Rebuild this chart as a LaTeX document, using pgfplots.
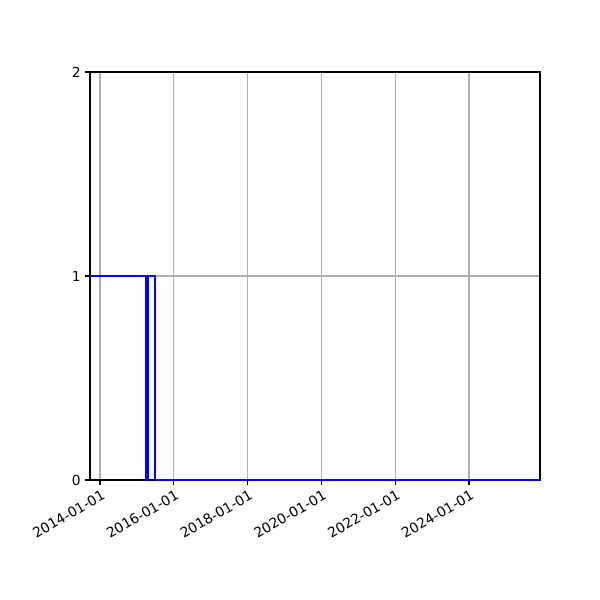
\documentclass[border=0pt]{standalone}
\usepackage{fontspec}
\setmainfont{DejaVu Sans}
\usepackage{pgfplots}
\pgfplotsset{compat=1.18}
\definecolor{gridgray}{HTML}{B0B0B0}

\begin{document}
\fontsize{10}{12}\selectfont
\begin{tikzpicture}
% page of 600 x 600 px, 1 px = 0.7227 pt
\path[use as bounding box] (0pt,0pt) rectangle (433.62pt,433.62pt);
\begin{axis}[
    at={(65.04pt,86.72pt)}, anchor=south west,
    scale only axis,
    width=325.2pt, height=294.9pt,
    xmin=-99, xmax=4355,
    ymin=0, ymax=2,
    xtick={0,730,1461,2191,2922,3652},
    xticklabels={2014-01-01,2016-01-01,2018-01-01,2020-01-01,2022-01-01,2024-01-01},
    ytick={0,1,2},
    xtick pos=bottom, ytick pos=left,
    tick align=outside,
    major tick length=3.5pt,
    every tick/.style={black, line width=0.8pt},
    x tick label style={rotate=30, anchor=north east, inner sep=1pt, yshift=-2pt},
    y tick label style={inner sep=2pt, xshift=-1pt},
    /pgf/number format/assume math mode=true,
    grid=major,
    grid style={gridgray, line width=0.8pt},
    axis line style={black, line width=0.8pt},
    tick label style={font=\fontsize{10}{12}\selectfont},
]
% x in days since 2014-01-01
\addplot[const plot, blue, line width=1.3pt] coordinates {
    (-99,1) (455,0) (472,1) (544,0) (4355,0)
};
\end{axis}
\end{tikzpicture}
\end{document}
